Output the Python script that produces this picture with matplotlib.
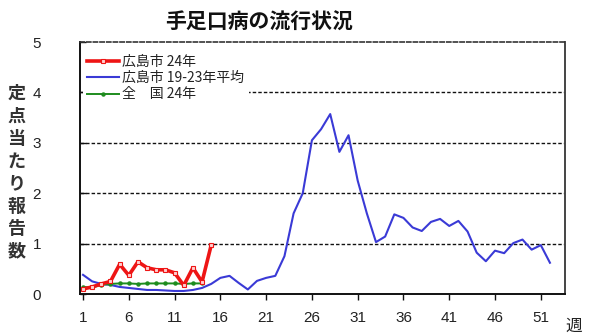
import matplotlib
matplotlib.use("Agg")
import matplotlib.pyplot as plt
import numpy as np

# 週
weeks = np.arange(1, 53)

# 広島市 24年 (第1〜15週)
hiroshima_24 = [0.10, 0.14, 0.20, 0.25, 0.59, 0.37, 0.64, 0.52, 0.48, 0.48,
                0.42, 0.17, 0.52, 0.24, 0.97]

# 広島市 19-23年平均
hiroshima_avg = [0.38, 0.25, 0.20, 0.18, 0.14, 0.12, 0.10, 0.08, 0.08, 0.07,
                 0.06, 0.06, 0.08, 0.12, 0.20, 0.32, 0.36, 0.22, 0.09, 0.26,
                 0.32, 0.36, 0.75, 1.60, 2.00, 3.05, 3.27, 3.57, 2.82, 3.15,
                 2.25, 1.60, 1.03, 1.14, 1.58, 1.51, 1.32, 1.25, 1.43, 1.49,
                 1.35, 1.45, 1.24, 0.82, 0.65, 0.86, 0.81, 1.01, 1.08, 0.88,
                 0.97, 0.62]

# 全国 24年 (第1〜14週)
zenkoku_24 = [0.14, 0.13, 0.18, 0.20, 0.21, 0.21, 0.20, 0.21, 0.21, 0.21,
              0.21, 0.20, 0.21, 0.21]

xticks = [1, 6, 11, 16, 21, 26, 31, 36, 41, 46, 51]
yticks = [0, 1, 2, 3, 4, 5]

jp = ['Noto Sans CJK JP', 'DejaVu Sans']
txt = '#222222'

fig = plt.figure(figsize=(6.08, 3.36), dpi=100)
ax = fig.add_axes([0.1316, 0.125, 0.797, 0.75])

ax.plot(weeks, hiroshima_avg, color='#3a3ad6', lw=1.5, label='広島市 19-23年平均', zorder=3)
ax.plot(weeks[:len(zenkoku_24)], zenkoku_24, color='#1e8c1e', lw=1.4, marker='o',
        ms=2.2, label='全\u3000国 24年', zorder=4)
ax.plot(weeks[:len(hiroshima_24)], hiroshima_24, color='#ee1515', lw=2.6, marker='s',
        ms=3, mfc='#ffd0d0', mec='#ee1515', mew=0.8, label='広島市 24年', zorder=5)

ax.set_xlim(0.67, 53.6)
ax.set_ylim(0, 5)
ax.set_xticks(xticks)
ax.set_yticks(yticks)

for v in [1, 2, 3, 4]:
    ax.axhline(v, color='#111111', lw=1.0, ls=(0, (2.5, 1.5)), zorder=1)

for s in ['left', 'bottom']:
    ax.spines[s].set_color('#111111')
    ax.spines[s].set_linewidth(1.4)
ax.spines['right'].set_color('#444444')
ax.spines['right'].set_linewidth(1.4)
ax.spines['top'].set_color('#333333')
ax.spines['top'].set_linewidth(1.2)
ax.spines['top'].set_linestyle((0, (2.5, 1.5)))

ax.tick_params(axis='x', direction='out', length=4, width=1, pad=8, colors='#111111',
               labelcolor=txt, labelsize=11)
ax.tick_params(axis='y', direction='in', length=4, width=1, pad=28, colors='#111111',
               labelcolor=txt, labelsize=11)
for lab in ax.get_xticklabels() + ax.get_yticklabels():
    lab.set_family('Liberation Sans')

handles, labels = ax.get_legend_handles_labels()
order = [2, 0, 1]
leg = ax.legend([handles[i] for i in order], [labels[i] for i in order],
                loc='upper left', bbox_to_anchor=(0.0, 0.975), borderaxespad=0.2,
                frameon=True, fancybox=False, edgecolor='none', framealpha=1,
                prop={'family': jp, 'size': 10}, handlelength=2.3, handletextpad=0.25,
                labelspacing=0.15, numpoints=1, borderpad=0.3)
for t in leg.get_texts():
    t.set_color(txt)
leg.set_zorder(6)

fig.text(0.426, 0.935, '手足口病の流行状況', family=jp, fontsize=15, fontweight='bold',
         color='#111111', ha='center', va='center')

ylab = '定点当たり報告数'
for i, ch in enumerate(ylab):
    fig.text(0.027, 0.722 - i * 0.067, ch, family=jp, fontsize=13, fontweight='bold',
             color='#333333', ha='center', va='center')

fig.text(0.943, 0.03, '週', family=jp, fontsize=12, color=txt, ha='center', va='center')

fig.savefig('out.png', dpi=100)
